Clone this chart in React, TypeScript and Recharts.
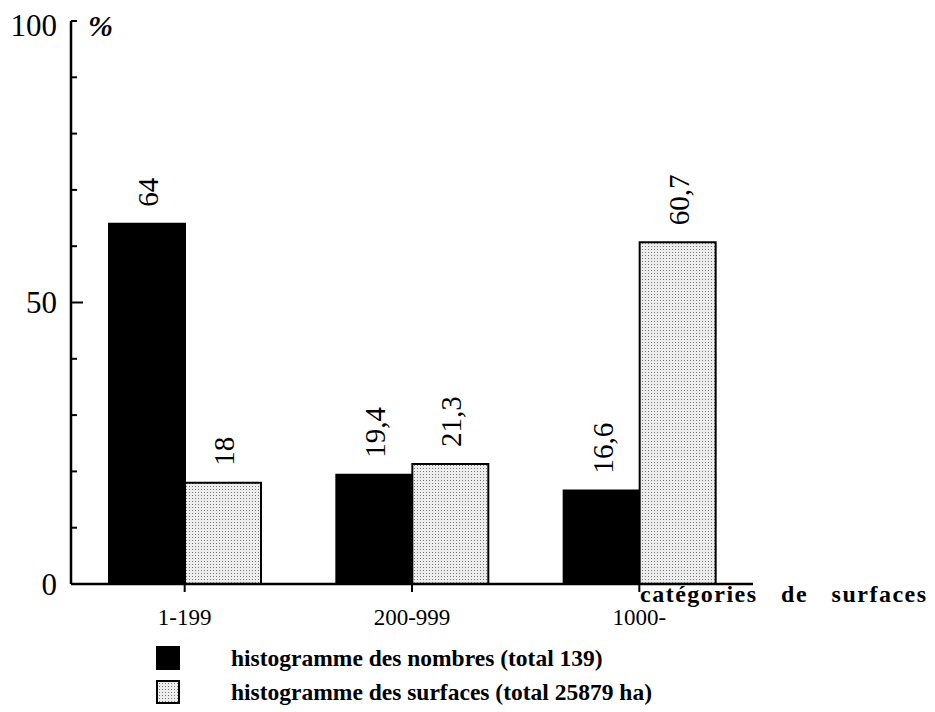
import React from 'react';
import { BarChart, Bar, XAxis, YAxis, LabelList, Legend, Label } from 'recharts';

const categories = ['1-199', '200-999', '1000-'];
const nombres = [64, 19.4, 16.6];
const surfaces = [18, 21.3, 60.7];
const yTicks = [0, 10, 20, 30, 40, 50, 60, 70, 80, 90, 100];
const yLabeled = [0, 50, 100];
const seriesNames = ['histogramme des nombres (total 139)', 'histogramme des surfaces (total 25879 ha)'];
const xAxisTitle = 'catégories de surfaces';
const yAxisUnit = '%';

const data = categories.map((c, i) => ({ cat: c, nombres: nombres[i], surfaces: surfaces[i] }));

const SERIF = '"Liberation Serif", "Times New Roman", serif';
const DOTS = 'url(#dots)';

const YTick = (props: any) => {
  const { x, y, payload } = props;
  const v = payload.value;
  const len = v === 50 ? 12 : 6;
  return (
    <g>
      <line x1={x} x2={x + len} y1={y} y2={y} stroke="#000" strokeWidth={2} />
      {yLabeled.includes(v) && (
        <text x={x - 14} y={v === 100 ? y + 4 : y} textAnchor="end" dominantBaseline="central" fontSize={31} fontFamily={SERIF} fill="#000">
          {v}
        </text>
      )}
    </g>
  );
};

const XTick = (props: any) => {
  const { x, y, payload } = props;
  return (
    <g>
      <line x1={x} x2={x} y1={y} y2={y + 8} stroke="#000" strokeWidth={2} />
      <text x={x} y={y + 41} textAnchor="middle" fontSize={23} fontFamily={SERIF} fill="#000">
        {payload.value}
      </text>
    </g>
  );
};

const BarValueLabel = (props: any) => {
  const { x, y, width, value } = props;
  return (
    <text
      transform={`translate(${x + width / 2 + 1},${y - 17}) rotate(-90)`}
      textAnchor="start"
      dominantBaseline="central"
      fontSize={29}
      fontFamily={SERIF}
      fill="#000"
    >
      {String(value).replace('.', ',')}
    </text>
  );
};

const LegendContent = (props: any) => {
  const payload = props.payload || [];
  return (
    <div style={{ fontFamily: SERIF, fontWeight: 'bold', fontSize: 23.5, color: '#000' }}>
      {payload.map((entry: any, i: number) => (
        <div key={i} style={{ display: 'flex', alignItems: 'center', height: 34 }}>
          <svg width={24} height={24} style={{ display: 'block' }}>
            <rect x={1} y={1} width={22} height={22} fill={i === 0 ? '#000' : DOTS} stroke="#000" strokeWidth={2} />
          </svg>
          <span style={{ marginLeft: 51, whiteSpace: 'nowrap' }}>{entry.value}</span>
        </div>
      ))}
    </div>
  );
};

export default function App() {
  return (
    <div style={{ position: 'absolute', left: 0, top: 0, width: 935, height: 712, background: '#fff', fontFamily: SERIF }}>
      <BarChart
        width={935}
        height={712}
        data={data}
        margin={{ top: 21, right: 182, bottom: 68, left: 0 }}
        barGap={0}
        barSize={76}
      >
        <defs>
          <pattern id="dots" width="3" height="3" patternUnits="userSpaceOnUse">
            <rect width="3" height="3" fill="#ededed" />
            <rect width="1" height="1" fill="#7a7a7a" />
          </pattern>
        </defs>
        <XAxis
          dataKey="cat"
          height={60}
          tick={<XTick />}
          tickLine={false}
          tickSize={0}
          tickMargin={0}
          axisLine={{ stroke: '#000', strokeWidth: 2.5 }}
          interval={0}
        >
          <Label
            content={(p: any) => {
              const vb = p.viewBox || {};
              return (
                <text
                  x={vb.x + vb.width - 113}
                  y={vb.y + 18}
                  fontSize={24}
                  fontWeight="bold"
                  fontFamily={SERIF}
                  style={{ letterSpacing: 1.5, wordSpacing: 16 }}
                  fill="#000"
                >
                  {xAxisTitle}
                </text>
              );
            }}
          />
        </XAxis>
        <YAxis
          width={71}
          domain={[0, 100]}
          ticks={yTicks}
          interval={0}
          tick={<YTick />}
          tickLine={false}
          tickSize={0}
          tickMargin={0}
          axisLine={{ stroke: '#000', strokeWidth: 2.5 }}
        >
          <Label
            content={(p: any) => {
              const vb = p.viewBox || {};
              return (
                <text
                  x={vb.x + vb.width + 17}
                  y={vb.y + 15}
                  fontSize={30}
                  fontWeight="bold"
                  fontStyle="italic"
                  fontFamily={SERIF}
                  fill="#000"
                >
                  {yAxisUnit}
                </text>
              );
            }}
          />
        </YAxis>
        <Legend
          layout="vertical"
          align="center"
          verticalAlign="middle"
          content={<LegendContent />}
          wrapperStyle={{ left: 156, top: 641, width: 650 }}
        />
        <Bar dataKey="nombres" name={seriesNames[0]} fill="#000" stroke="#000" strokeWidth={2} isAnimationActive={false}>
          <LabelList dataKey="nombres" content={<BarValueLabel />} />
        </Bar>
        <Bar dataKey="surfaces" name={seriesNames[1]} fill={DOTS} stroke="#000" strokeWidth={2} isAnimationActive={false}>
          <LabelList dataKey="surfaces" content={<BarValueLabel />} />
        </Bar>
      </BarChart>
    </div>
  );
}
